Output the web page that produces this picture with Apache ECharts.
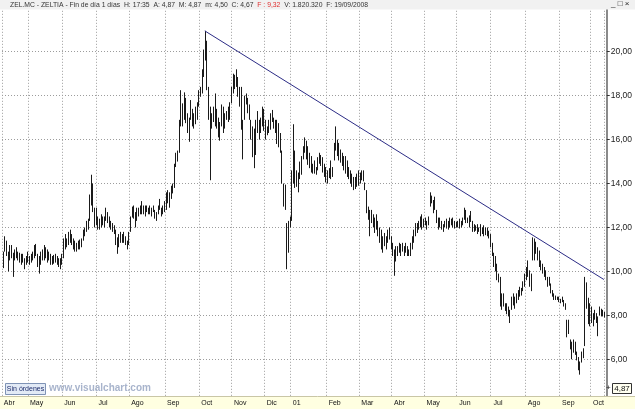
<!DOCTYPE html>
<html><head><meta charset="utf-8">
<script src="https://cdn.jsdelivr.net/npm/echarts@6/dist/echarts.min.js"></script>
<style>html,body{margin:0;padding:0;background:#fff}#c{width:635px;height:409px}</style>
</head><body><div id="c"></div>
<script>
// ---- data (ZEL.MC daily bars, Apr 2000 - Oct 2001) ----
const lows = [
 10.15,10.9,10.7,10.0,10.5,10.6,9.75,10.5,10.6,10.5,
 10.4,10.3,10.4,10.1,10.3,10.4,10.3,10.4,10.5,10.6,
 10.7,10.2,9.9,10.3,10.5,10.5,10.6,10.4,10.5,10.3,
 10.3,10.35,10.4,10.3,10.2,10.1,10.3,10.6,11.0,11.1,
 11.2,11.3,11.2,11.0,10.9,10.9,11.0,11.0,11.1,11.4,
 11.6,11.8,11.9,12.3,13.0,12.7,12.0,12.1,11.9,11.9,
 12.0,12.1,12.0,12.3,12.2,12.0,11.9,11.8,11.7,11.2,
 10.8,11.1,11.3,11.3,11.3,11.2,11.0,11.2,11.8,12.45,
 12.4,12.0,12.3,12.5,12.6,12.6,12.6,12.5,12.7,12.6,
 12.6,12.5,12.7,12.4,12.3,12.6,12.8,
 12.5,12.6,12.7,12.8,13.1,12.9,13.3,13.55,13.8,14.75,
 15.0,15.4,16.6,16.6,16.9,16.75,16.3,15.9,16.9,16.6,
 16.5,16.7,16.9,17.5,17.95,18.1,18.85,19.6,18.25,16.9,
 14.15,16.5,16.8,16.6,16.5,16.1,15.95,16.6,16.3,16.5,
 16.9,16.8,16.9,17.65,18.1,18.3,18.4,17.95,17.5,16.45,
 15.1,16.9,17.6,17.2,16.9,16.0,15.2,14.7,15.3,16.3,
 16.0,16.3,16.6,16.4,16.0,16.2,16.3,16.45,16.8,16.5,
 16.3,15.8,15.65,15.4,14.0,12.95,12.8,10.1,10.85,12.0,
 12.3,14.0,13.8,13.85,13.6,14.2,14.4,15.1,15.4,15.1,
 14.85,14.7,14.5,
 14.45,14.45,14.4,14.6,14.9,14.8,14.5,14.3,14.05,14.0,
 14.25,14.2,14.3,15.05,15.5,15.25,15.05,14.95,14.8,14.6,
 14.45,14.3,14.2,14.0,13.85,13.7,13.75,13.85,13.9,14.0,
 14.15,14.1,13.7,12.65,12.35,11.6,12.2,12.0,11.75,11.9,
 11.6,11.3,11.0,10.85,11.15,11.0,11.3,11.45,11.0,10.7,
 9.8,10.45,10.7,10.85,10.7,10.9,10.7,10.85,10.7,10.7,
 10.7,11.0,11.3,11.6,11.75,11.9,12.0,11.9,12.0,12.1,
 11.9,12.1,12.95,13.1,12.65,12.8,12.2,11.9,12.0,11.9,
 11.8,12.0,11.95,11.9,12.0,12.1,12.0,11.95,12.0,12.0,
 11.95,12.0,12.1,12.35,12.2,
 12.2,12.0,12.25,11.8,11.8,11.85,11.7,11.8,11.6,11.7,
 11.6,11.65,11.6,11.5,11.1,10.7,10.2,10.0,9.6,9.5,
 8.4,8.25,8.4,8.2,8.05,7.95,7.65,8.25,8.45,8.3,
 8.55,8.7,8.85,8.9,9.1,9.3,9.6,9.75,9.3,9.1,
 10.5,10.5,10.8,10.5,10.2,10.05,9.9,9.75,9.6,9.3,
 9.35,9.0,8.85,8.7,8.7,8.7,8.6,8.55,8.6,8.4,
 8.25,7.0,7.15,6.45,6.0,6.3,6.2,5.95,5.5,5.3,
 5.85,6.05,6.6,8.3,7.6,7.5,7.65,7.5,7.8,7.65,
 7.05,8.0,7.95,7.95,7.9
];
const highs = [
 10.9,11.6,11.4,10.9,11.2,11.2,10.85,11.0,11.1,10.9,
 10.85,10.8,10.8,10.6,10.7,10.9,10.7,10.8,10.9,11.2,
 11.25,10.8,10.7,10.9,11.0,11.2,11.1,11.0,10.9,10.8,
 10.7,10.75,10.8,10.7,10.6,10.6,10.8,11.5,11.7,11.5,
 11.8,11.9,11.7,11.5,11.4,11.3,11.4,11.45,11.5,11.9,
 12.0,12.3,12.4,13.5,14.4,14.0,12.9,12.9,12.5,12.4,
 12.6,12.5,12.5,12.9,12.7,12.5,12.3,12.2,12.1,11.9,
 11.55,11.7,11.8,11.7,11.8,11.6,11.4,11.8,12.5,12.95,
 13.0,12.7,12.9,12.9,13.0,13.2,13.0,13.0,13.0,12.9,
 13.0,12.9,13.0,12.8,12.7,13.0,13.3,
 12.9,13.0,13.2,13.6,13.7,13.6,13.9,14.0,14.9,15.4,
 15.5,16.9,18.25,17.65,18.15,17.9,17.2,17.0,17.8,17.4,
 17.2,17.5,17.7,18.25,18.4,19.2,20.1,20.95,20.5,18.4,
 17.5,17.2,17.5,18.1,17.4,17.0,16.8,17.6,17.5,17.2,
 17.3,17.5,17.7,18.4,19.0,18.95,19.2,18.85,18.4,18.4,
 16.9,18.0,18.1,17.9,17.6,16.9,16.6,16.5,16.9,17.3,
 16.9,17.0,17.5,17.4,16.9,16.6,16.9,17.2,17.35,17.0,
 16.9,16.9,16.75,16.3,15.5,14.0,13.95,12.2,12.3,12.5,
 14.6,16.7,15.5,14.6,14.5,15.0,15.25,15.7,16.1,15.95,
 15.7,15.4,15.25,
 14.9,15.05,14.75,15.2,15.4,15.3,15.2,14.9,14.75,14.6,
 14.7,15.05,14.75,15.85,16.6,16.0,15.85,15.55,15.4,15.25,
 15.25,15.05,14.75,14.6,14.45,14.3,14.3,14.45,14.6,14.5,
 14.6,14.6,14.05,13.7,12.95,12.8,12.8,12.6,12.45,12.6,
 12.3,12.0,11.9,11.6,11.75,11.6,11.9,12.0,11.6,11.3,
 11.0,11.15,11.15,11.3,11.25,11.3,11.15,11.3,11.15,11.0,
 11.3,11.6,11.9,12.2,12.2,12.3,12.5,12.6,12.4,12.45,
 12.3,12.5,13.6,13.45,13.25,13.4,12.8,12.45,12.45,12.3,
 12.15,12.3,12.4,12.3,12.45,12.4,12.45,12.3,12.25,12.3,
 12.4,12.3,12.45,12.9,12.8,
 12.45,12.55,12.75,12.3,12.15,12.1,12.15,12.0,12.15,12.0,
 12.1,12.0,12.0,11.85,11.7,11.3,10.85,10.7,10.35,9.9,
 9.75,9.0,9.0,8.55,8.55,8.4,8.25,8.85,9.0,8.85,
 9.0,9.15,9.3,9.25,9.55,9.9,10.2,10.5,10.05,9.9,
 11.55,11.5,11.35,11.1,10.95,10.5,10.35,10.2,10.05,9.75,
 9.75,9.45,9.15,9.0,8.9,8.85,8.85,8.75,8.85,8.7,
 8.55,7.8,7.8,6.9,6.8,6.9,6.8,6.35,6.1,5.9,
 6.35,6.5,9.75,9.5,8.8,8.55,8.4,8.1,8.25,8.1,
 7.95,8.4,8.3,8.25,8.15
];
const monthLabels = ['Abr','May','Jun','Jul','Ago','Sep','Oct','Nov','Dic','01','Feb','Mar','Abr','May','Jun','Jul','Ago','Sep','Oct'];
const monthIdx    = [0,16,37,58,78,100,121,141,161,177,199,219,239,259,279,300,321,342,361];
const trendIdx = [124, 369];
const trendVal = [20.95, 9.63];
const lastPriceText = '4,87';
const titleMain = 'ZEL.MC - ZELTIA - Fin de día 1 días  H: 17:35  A: 4,87  M: 4,87  m: 4,50  C: 4,67  ';
const titleRed = 'F : 9,32';
const titleTail = '  V: 1.820.320  F: 19/09/2008';

// ---- chart ----
const FONT = '"Liberation Sans", Arial, sans-serif';
const cats = lows.map((_, i) => String(i));
const bars = lows.map((l, i) => [i, l, highs[i]]);
const isMonth = (i) => monthIdx.indexOf(i) >= 0;

const chart = echarts.init(document.getElementById('c'), null, {renderer: 'canvas'});
chart.setOption({
  animation: false,
  backgroundColor: '#ffffff',
  textStyle: {fontFamily: FONT},
  grid: [
    {left: 2, right: 29, top: 7.8, bottom: 5.8},
    {left: 2, right: 29, top: 396, bottom: 0}
  ],
  xAxis: [
    {type: 'category', gridIndex: 0, data: cats, boundaryGap: true,
     axisLine: {show: false}, axisTick: {show: false}, axisLabel: {show: false},
     splitLine: {show: true, interval: (i) => isMonth(i), lineStyle: {color: '#9c9c9c', type: [1, 2], width: 1}}},
    {type: 'category', gridIndex: 1, data: cats, boundaryGap: true, position: 'top', z: 60,
     axisLine: {show: false},
     axisTick: {show: true, inside: true, length: 5, interval: (i) => isMonth(i), lineStyle: {color: '#333'}},
     axisLabel: {show: true, inside: true, interval: (i) => isMonth(i), align: 'left', verticalAlign: 'top',
       margin: 3.5, fontSize: 7, color: '#111', padding: [0, 0, 0, 1],
       formatter: (v) => { const k = monthIdx.indexOf(Number(v)); return k >= 0 ? monthLabels[k] : ''; }},
     splitLine: {show: false}}
  ],
  yAxis: [
    {type: 'value', gridIndex: 0, position: 'right', min: 4, max: 22, interval: 2, offset: 2,
     axisLine: {show: true, lineStyle: {color: '#8a8a8a', width: 2}},
     axisTick: {show: true, length: 3, lineStyle: {color: '#333'}},
     axisLabel: {fontSize: 8.5, color: '#222', margin: 4,
       formatter: (v) => (v === 4 || v === 22) ? '' : v.toFixed(2).replace('.', ',')},
     splitLine: {show: true, lineStyle: {color: '#9c9c9c', type: [1, 2], width: 1}}},
    {type: 'value', gridIndex: 1, show: false}
  ],
  series: [
    {type: 'custom', xAxisIndex: 0, yAxisIndex: 0, data: bars, encode: {x: 0, y: [1, 2]},
     renderItem: function (params, api) {
       const x = api.value(0);
       const p1 = api.coord([x, api.value(2)]);
       const p2 = api.coord([x, api.value(1)]);
       const px = Math.round(p1[0]) + 0.5;
       return {type: 'line', shape: {x1: px, y1: p1[1], x2: px, y2: p2[1]},
               style: {stroke: '#1a1a1a', lineWidth: 1}};
     }},
    {type: 'line', xAxisIndex: 0, yAxisIndex: 0, symbol: 'none', z: 3,
     data: trendIdx.map((x, i) => [x, trendVal[i]]),
     lineStyle: {color: '#2c2c86', width: 1}}
  ],
  graphic: [
    {type: 'rect', z: 50, shape: {x: 0, y: 0, width: 635, height: 9.5}, style: {fill: '#f1f1f1'}},
    {type: 'text', z: 51, x: 10, y: 1.5,
     style: {text: '{a|' + titleMain + '}{r|' + titleRed + '}{a|' + titleTail + '}',
       rich: {a: {fill: '#333', fontSize: 6.8, fontFamily: FONT}, r: {fill: '#e03030', fontSize: 6.8, fontFamily: FONT}}}},
    {type: 'text', z: 51, x: 611, y: 0, style: {text: '_ □ ×', fontSize: 8, fill: '#222', fontFamily: FONT}},
    {type: 'rect', z: 50, shape: {x: 0, y: 396, width: 635, height: 13}, style: {fill: '#ffffe1'}},
    {type: 'line', z: 51, shape: {x1: 0, y1: 396.5, x2: 635, y2: 396.5}, style: {stroke: '#c9c6a6', lineWidth: 1}},
    {type: 'rect', z: 55, shape: {x: 5.5, y: 383.5, width: 40, height: 11}, style: {fill: '#e2eaf6', stroke: '#7f93b5', lineWidth: 1}},
    {type: 'text', z: 56, x: 25.5, y: 389, style: {text: 'Sin órdenes', fontSize: 7, fill: '#1d2c6b', align: 'center', verticalAlign: 'middle', fontFamily: FONT}},
    {type: 'text', z: 55, x: 49, y: 388, style: {text: 'www.visualchart.com', fontSize: 10, fontWeight: 'bold', fill: '#a8b4cc', verticalAlign: 'middle', fontFamily: FONT}},
    {type: 'text', z: 55, x: 606, y: 388, style: {text: '+', fontSize: 8, fill: '#222', verticalAlign: 'middle', fontFamily: FONT}},
    {type: 'rect', z: 55, shape: {x: 612.5, y: 383.5, width: 19, height: 10}, style: {fill: '#fffff0', stroke: '#333', lineWidth: 1}},
    {type: 'text', z: 56, x: 622, y: 389, style: {text: lastPriceText, fontSize: 8, fill: '#111', align: 'center', verticalAlign: 'middle', fontFamily: FONT}}
  ]
});
</script>
</body></html>
